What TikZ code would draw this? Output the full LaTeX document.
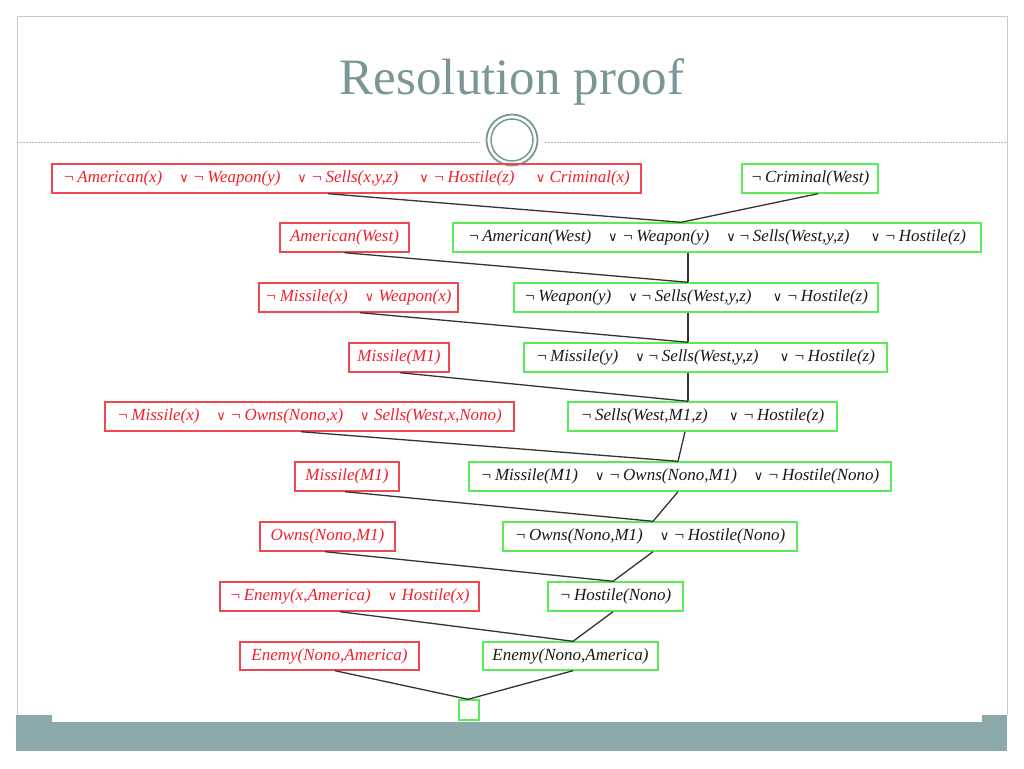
\documentclass[tikz,border=0pt]{standalone}
\usepackage{fontspec}
\setmainfont{Liberation Serif}
\newfontfamily\symf{DejaVu Sans}
\definecolor{slate}{HTML}{7A9696}
\definecolor{barc}{HTML}{8BA9A9}
\definecolor{framec}{HTML}{BFCDCD}
\definecolor{dashc}{HTML}{A5B8B8}
\definecolor{redt}{HTML}{F0202E}
\definecolor{redb}{HTML}{F04850}
\definecolor{greenb}{HTML}{58EC58}
\newcommand\myor{{\symf\fontsize{13}{14}\selectfont ∨}}
\newcommand\mynot{¬\,}
\tikzset{
  clause/.style={inner sep=0pt, minimum height=29pt, text height=12pt, text depth=4pt,
    font=\itshape\fontsize{17}{19}\selectfont, line width=1.4pt},
  redbox/.style={clause, draw=redb, text=redt},
  greenbox/.style={clause, draw=greenb, text=black!90},
  link/.style={draw=black!80, line width=1.3pt}
}
\begin{document}
\begin{tikzpicture}[x=1pt,y=-1pt]
\useasboundingbox (0,0) rectangle (1024,768);
% slide frame
\draw[framec, line width=1pt] (17,715) -- (17,17) -- (1007,17) -- (1007,715);
\fill[barc] (16,722) rectangle (1007,751);
\fill[barc] (16,715) rectangle (52,722);
\fill[barc] (982,715) rectangle (1007,722);
\draw[dashc, line width=0.9pt, dash pattern=on 2pt off 1pt] (17,142) -- (480,142);
\draw[dashc, line width=0.9pt, dash pattern=on 2pt off 1pt] (545,142) -- (1007,142);
\draw[slate, line width=1.8pt, fill=white] (512,140) circle (25.5);
\draw[slate, line width=1.5pt] (512,140) circle (21);
\node[text=slate, font=\fontsize{51}{60}\selectfont, anchor=base, inner sep=0pt] (title) at (512,94) {Resolution proof};

% clauses
\node[redbox, minimum width=589pt] (R1) at (346.5,178.5) {\mynot American(x)\quad\myor\ \mynot Weapon(y)\quad\myor\ \mynot Sells(x,y,z)\quad\ \myor\ \mynot Hostile(z)\quad\ \myor\ Criminal(x)};
\node[greenbox, minimum width=136pt] (G1) at (810,178.5) {\mynot Criminal(West)};
\node[redbox, minimum width=129pt] (R2) at (344.5,237.5) {American(West)};
\node[greenbox, minimum width=528pt] (G2) at (717,237.5) {\mynot American(West)\quad\myor\ \mynot Weapon(y)\quad\myor\,\mynot Sells(West,y,z)\quad\ \myor\ \mynot Hostile(z)};
\node[redbox, minimum width=199pt] (R3) at (358.5,297.5) {\mynot Missile(x)\quad\myor\ Weapon(x)};
\node[greenbox, minimum width=364pt] (G3) at (696,297.5) {\mynot Weapon(y)\quad\myor\,\mynot Sells(West,y,z)\quad\ \myor\ \mynot Hostile(z)};
\node[redbox, minimum width=100pt] (R4) at (399,357.5) {Missile(M1)};
\node[greenbox, minimum width=363pt] (G4) at (705.5,357.5) {\mynot Missile(y)\quad\myor\,\mynot Sells(West,y,z)\quad\ \myor\ \mynot Hostile(z)};
\node[redbox, minimum width=409pt] (R5) at (309.5,416.5) {\mynot Missile(x)\quad\myor\ \mynot Owns(Nono,x)\quad\myor\ Sells(West,x,Nono)};
\node[greenbox, minimum width=269pt] (G5) at (702.5,416.5) {\mynot Sells(West,M1,z)\quad\ \myor\ \mynot Hostile(z)};
\node[redbox, minimum width=104pt] (R6) at (347,476.5) {Missile(M1)};
\node[greenbox, minimum width=422pt] (G6) at (680,476.5) {\mynot Missile(M1)\quad\myor\ \mynot Owns(Nono,M1)\quad\myor\ \mynot Hostile(Nono)};
\node[redbox, minimum width=135pt] (R7) at (327.5,536.5) {Owns(Nono,M1)};
\node[greenbox, minimum width=294pt] (G7) at (650,536.5) {\mynot Owns(Nono,M1)\quad\myor\ \mynot Hostile(Nono)};
\node[redbox, minimum width=259pt] (R8) at (349.5,596.5) {\mynot Enemy(x,America)\quad\myor\ Hostile(x)};
\node[greenbox, minimum width=135pt] (G8) at (615.5,596.5) {\mynot Hostile(Nono)};
\node[redbox, minimum width=179pt, minimum height=28pt] (R9) at (329.5,656) {Enemy(Nono,America)};
\node[greenbox, minimum width=175pt, minimum height=28pt] (G9) at (570.5,656) {Enemy(Nono,America)};
\node[greenbox, minimum width=20pt, minimum height=20pt, text height=0pt, text depth=0pt] (G10) at (469,710) {};

% junction points on top of each resolvent
\coordinate (j2) at ([xshift=-36pt]G2.north);
\coordinate (j3) at ([xshift=-8pt]G3.north);
\coordinate (j4) at ([xshift=-17.5pt]G4.north);
\coordinate (j5) at ([xshift=-14.5pt]G5.north);
\coordinate (j6) at ([xshift=-2pt]G6.north);
\coordinate (j7) at ([xshift=3pt]G7.north);
\coordinate (j8) at ([xshift=-2.5pt]G8.north);
\coordinate (j9) at ([xshift=2.5pt]G9.north);
\coordinate (j10) at ([xshift=-1pt]G10.north);

% connectors
\draw[link] ([xshift=-18.5pt]R1.south) -- (j2);
\draw[link] ([xshift=8pt]G1.south) -- (j2);
\draw[link] (R2.south) -- (j3);
\draw[link] ([xshift=-29pt]G2.south) -- (j3);
\draw[link] ([xshift=1.5pt]R3.south) -- (j4);
\draw[link] ([xshift=-8pt]G3.south) -- (j4);
\draw[link] ([xshift=1pt]R4.south) -- (j5);
\draw[link] ([xshift=-17.5pt]G4.south) -- (j5);
\draw[link] ([xshift=-8.5pt]R5.south) -- (j6);
\draw[link] ([xshift=-17.5pt]G5.south) -- (j6);
\draw[link] ([xshift=-2pt]R6.south) -- (j7);
\draw[link] ([xshift=-2pt]G6.south) -- (j7);
\draw[link] ([xshift=-2.5pt]R7.south) -- (j8);
\draw[link] ([xshift=3pt]G7.south) -- (j8);
\draw[link] ([xshift=-9.5pt]R8.south) -- (j9);
\draw[link] ([xshift=-2.5pt]G8.south) -- (j9);
\draw[link] ([xshift=5.5pt]R9.south) -- (j10);
\draw[link] ([xshift=2.5pt]G9.south) -- (j10);
\end{tikzpicture}
\end{document}
